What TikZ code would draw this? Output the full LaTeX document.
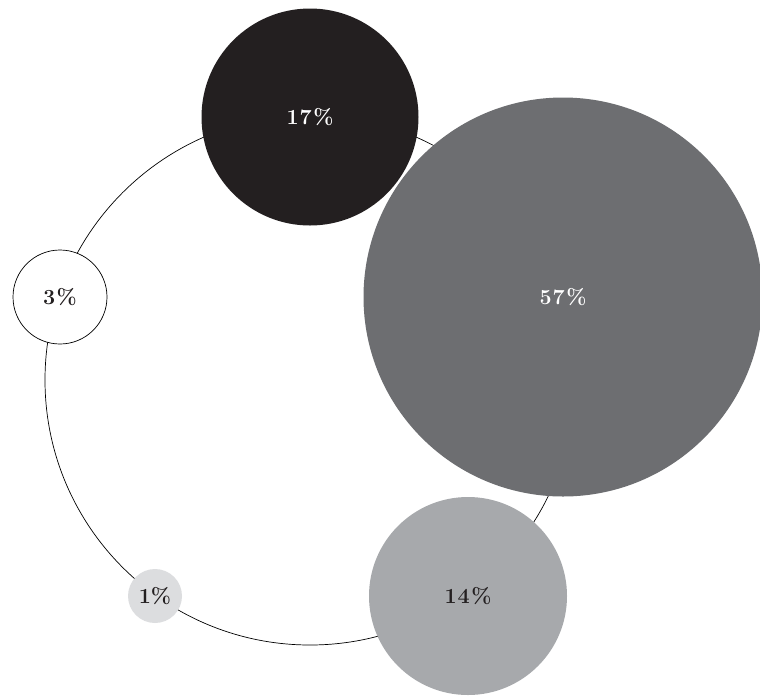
\documentclass[tikz,border=0pt]{standalone}
\usepackage{fontspec}
\usepackage{tikz}
\definecolor{share57}{HTML}{6D6E71}
\definecolor{share17}{HTML}{231F20}
\definecolor{share14}{HTML}{A7A9AC}
\definecolor{share1}{HTML}{DCDDDF}
\tikzset{blase/.style={circle, inner sep=0pt, font=\fontsize{21.5}{24}\selectfont\bfseries},
	hell/.style={text=share17},
	dunkel/.style={text=white},
	ring/.style={circle, draw, line width=0.7pt, inner sep=0pt} }

\begin{document}
\begin{tikzpicture}
	[x=1pt, y=-1pt]
  \useasboundingbox (0,0) rectangle (760,697);

  \node (kreis) [ring, minimum size=530pt] at (310,380) {};

  \node (b17) [blase, dunkel, fill=share17, minimum size=217pt] at (310,117) {1\kern1pt7\kern1.5pt\%};
  \node (b57) [blase, dunkel, fill=share57, minimum size=399pt] at (563,297) {5\kern1pt7\kern1.5pt\%};
  \node (b14) [blase, hell, fill=share14, minimum size=198pt] at (468,596) {1\kern1pt4\kern1.5pt\%};
  \node (b1) [blase, hell, fill=share1, minimum size=54pt] at (155,596) {1\%};
  \node (b3) [blase, hell, ring, fill=white, minimum size=94pt] at (60,297) {3\kern1.5pt\%};
\end{tikzpicture}
\end{document}
